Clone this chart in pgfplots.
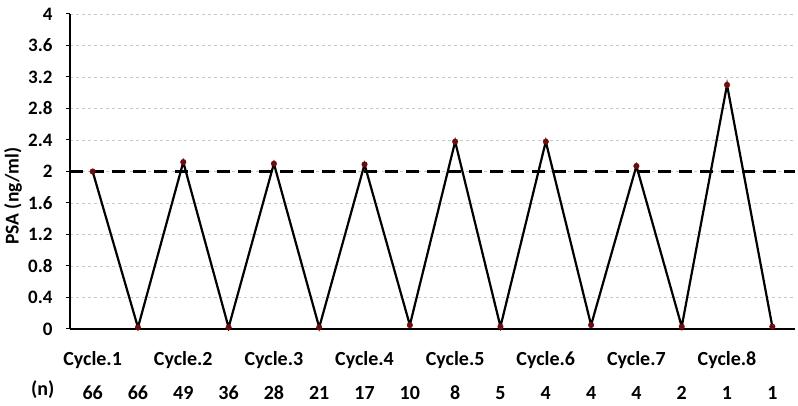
\documentclass[border=0pt]{standalone}
\usepackage{pgfplots}
\pgfplotsset{compat=1.18}
\usepackage{fontspec}
\setmainfont{Carlito}
\definecolor{mk}{RGB}{110,12,12}
\definecolor{gridc}{RGB}{200,200,200}
\begin{document}
\begin{tikzpicture}
\begin{axis}[
  scale only axis,
  width=725pt, height=315pt,
  xmin=-0.5, xmax=15.5,
  ymin=0, ymax=4,
  ytick={0,0.4,...,4.01},
  yticklabels={0,0.4,0.8,1.2,1.6,2,2.4,2.8,3.2,3.6,4},
  axis lines=left,
  axis line style={-, line width=2.6pt, black},
  ymajorgrids,
  major grid style={dashed, gridc, line width=0.6pt},
  ytick style={line width=1pt, black},
  tick align=outside,
  major tick length=4pt,
  xtick={0,...,15},
  xticklabels={66,66,49,36,28,21,17,10,8,5,4,4,4,2,1,1},
  xtick style={draw=none},
  /pgf/number format/assume math mode=true,
  yticklabel style={font=\fontsize{19}{22}\selectfont\bfseries, xshift=-10pt},
  xticklabel style={font=\fontsize{20}{24}\selectfont\bfseries, anchor=base, yshift=-67pt},
  extra x ticks={0,2,4,6,8,10,12,14},
  extra x tick labels={Cycle.1,Cycle.2,Cycle.3,Cycle.4,Cycle.5,Cycle.6,Cycle.7,Cycle.8},
  extra x tick style={tick style={draw=none}, xticklabel style={yshift=34pt}},
  ylabel={PSA (ng/ml)},
  ylabel style={font=\fontsize{19.5}{22}\selectfont\bfseries, at={(axis description cs:-0.0785,0.422)}, anchor=center, inner sep=1pt},
  clip=false,
]
\addplot[black, line width=2.8pt, dash pattern=on 13pt off 8pt, forget plot] coordinates {(-0.5,2) (15.5,2)};
\addplot[black, line width=2.2pt, mark=*, mark size=2.8pt, mark options={fill=mk, draw=mk, line width=0.4pt}] coordinates {
(0,2.00) (1,0.02) (2,2.12) (3,0.02) (4,2.10) (5,0.02) (6,2.09) (7,0.05)
(8,2.38) (9,0.03) (10,2.38) (11,0.05) (12,2.07) (13,0.03) (14,3.10) (15,0.03)
};
\node[font=\fontsize{20}{24}\selectfont\bfseries, anchor=base] at (axis cs:-1.1,-0.0) [yshift=-67pt] {(n)};
\end{axis}
\path (-70pt,-77pt) rectangle (728pt,329pt);
\end{tikzpicture}
\end{document}
